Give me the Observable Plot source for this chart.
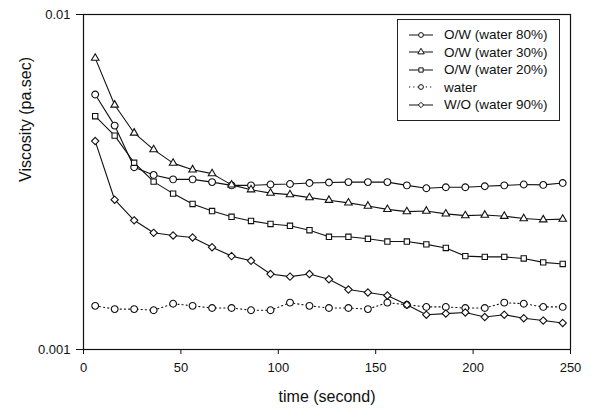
<!DOCTYPE html>
<html>
<head>
<meta charset="utf-8">
<script src="https://cdn.jsdelivr.net/npm/d3@7"></script>
<script src="https://cdn.jsdelivr.net/npm/@observablehq/plot@0.6"></script>
<style>
  html, body { margin: 0; padding: 0; background: #fff; }
  #wrap { position: relative; width: 590px; height: 408px; font-family: "Liberation Sans", Arial, sans-serif; }
  #legend { position: absolute; left: 397px; top: 19px; width: 163px; height: 102px; border: 1px solid #222; background: #fff; box-sizing: border-box; }
  .item { position: absolute; left: 0; height: 17px; display: flex; align-items: center; font-size: 13.5px; color: #111; }
  .item svg { margin-left: 11px; margin-right: 11px; }
</style>
</head>
<body>
<div id="wrap"><div id="legend"></div></div>
<script>
const time = [6,16,26,36,46,56,66,76,86,96,106,116,126,136,146,156,166,176,186,196,206,216,226,236,246];

const ow80 = [0.00577,0.00466,0.00350,0.00332,0.00322,0.00322,0.00316,0.00309,0.00309,0.00311,0.00312,0.00314,0.00315,0.00316,0.00316,0.00316,0.00309,0.00303,0.00305,0.00305,0.00307,0.00309,0.00311,0.00310,0.00314];
const ow30 = [0.00741,0.00537,0.00443,0.00395,0.00360,0.00344,0.00335,0.00310,0.00300,0.00293,0.00290,0.00284,0.00279,0.00274,0.00268,0.00262,0.00258,0.00259,0.00254,0.00251,0.00252,0.00250,0.00246,0.00244,0.00245];
const ow20 = [0.00497,0.00435,0.00361,0.00317,0.00292,0.00272,0.00259,0.00249,0.00242,0.00237,0.00234,0.00227,0.00217,0.00217,0.00214,0.00210,0.00210,0.00206,0.00201,0.00190,0.00189,0.00189,0.00187,0.00182,0.00180];
const water = [0.00135,0.00132,0.00132,0.00131,0.00137,0.00135,0.00133,0.00133,0.00131,0.00131,0.00138,0.00135,0.00133,0.00133,0.00132,0.00138,0.00136,0.00134,0.00134,0.00133,0.00133,0.00138,0.00137,0.00134,0.00134];
const wo90 = [0.00419,0.00280,0.00243,0.00223,0.00219,0.00216,0.00202,0.00190,0.00184,0.00168,0.00165,0.00168,0.00162,0.00151,0.00148,0.00145,0.00136,0.00127,0.00128,0.00129,0.00125,0.00127,0.00124,0.00122,0.00120];

const seriesNames = ["O/W (water 80%)","O/W (water 30%)","O/W (water 20%)","water","W/O (water 90%)"];
const seriesValues = [ow80, ow30, ow20, water, wo90];
const seriesSymbols = ["circle","triangle","square","circle","diamond2"];
const seriesDash = [null, null, null, "1.2,3", null];
const seriesR = [3.4, 2.8, 3.0, 3.4, 3.3];

const xTicks = [0,50,100,150,200,250];
const yTicks = [0.001, 0.01];
const yTickLabels = ["0.001", "0.01"];

const rows = [];
seriesNames.forEach((name, i) => {
  seriesValues[i].forEach((v, j) => rows.push({series: name, t: time[j], v}));
});

const ink = "#111";
const marks = [
  Plot.frame({stroke: ink, strokeWidth: 1.2}),
  Plot.axisX({ticks: xTicks, tickSize: 5, tickPadding: 8, fontSize: 13, label: null, stroke: ink}),
  Plot.axisY({ticks: yTicks, tickFormat: d => yTickLabels[yTicks.indexOf(d)], tickSize: 7, tickPadding: 6, fontSize: 13, label: null, stroke: ink}),
  Plot.text(["time (second)"], {frameAnchor: "bottom", dy: 52, fontSize: 16, fill: ink}),
  Plot.text(["Viscosity (pa.sec)"], {frameAnchor: "left", dx: -58, rotate: -90, fontSize: 16, fill: ink})
];
seriesNames.forEach((name, i) => {
  const d = rows.filter(r => r.series === name);
  marks.push(Plot.line(d, {x: "t", y: "v", stroke: ink, strokeWidth: 1.1, strokeDasharray: seriesDash[i] || undefined}));
});
seriesNames.forEach((name, i) => {
  const d = rows.filter(r => r.series === name);
  marks.push(Plot.dot(d, {x: "t", y: "v", symbol: () => seriesSymbols[i], r: seriesR[i], fill: "white", stroke: ink, strokeWidth: 1.1}));
});

const chart = Plot.plot({
  width: 590,
  height: 408,
  marginLeft: 83,
  marginRight: 20,
  marginTop: 14,
  marginBottom: 59,
  style: {fontFamily: "'Liberation Sans', Arial, sans-serif", fontSize: "13px", color: ink, background: "white"},
  x: {domain: [0, 250]},
  y: {type: "log", domain: [0.001, 0.01]},
  symbol: {type: "identity"},
  marks
});
document.getElementById("wrap").prepend(chart);

// legend
const legend = document.getElementById("legend");
const typeMap = {circle: d3.symbolCircle, triangle: d3.symbolTriangle, square: d3.symbolSquare, diamond2: d3.symbolDiamond2};
seriesNames.forEach((name, i) => {
  const item = document.createElement("div");
  item.className = "item";
  item.style.top = (6 + i * 17.6) + "px";
  const path = d3.symbol(typeMap[seriesSymbols[i]], Math.PI * 2.4 * 2.4)();
  const dash = seriesDash[i] ? `stroke-dasharray="${seriesDash[i]}"` : "";
  item.innerHTML = `<svg width="24" height="12" viewBox="-12 -6 24 12"><line x1="-12" x2="12" y1="0" y2="0" stroke="${ink}" stroke-width="1" ${dash}/><path d="${path}" fill="white" stroke="${ink}" stroke-width="1"/></svg><span>${name}</span>`;
  legend.appendChild(item);
});
</script>
</body>
</html>
